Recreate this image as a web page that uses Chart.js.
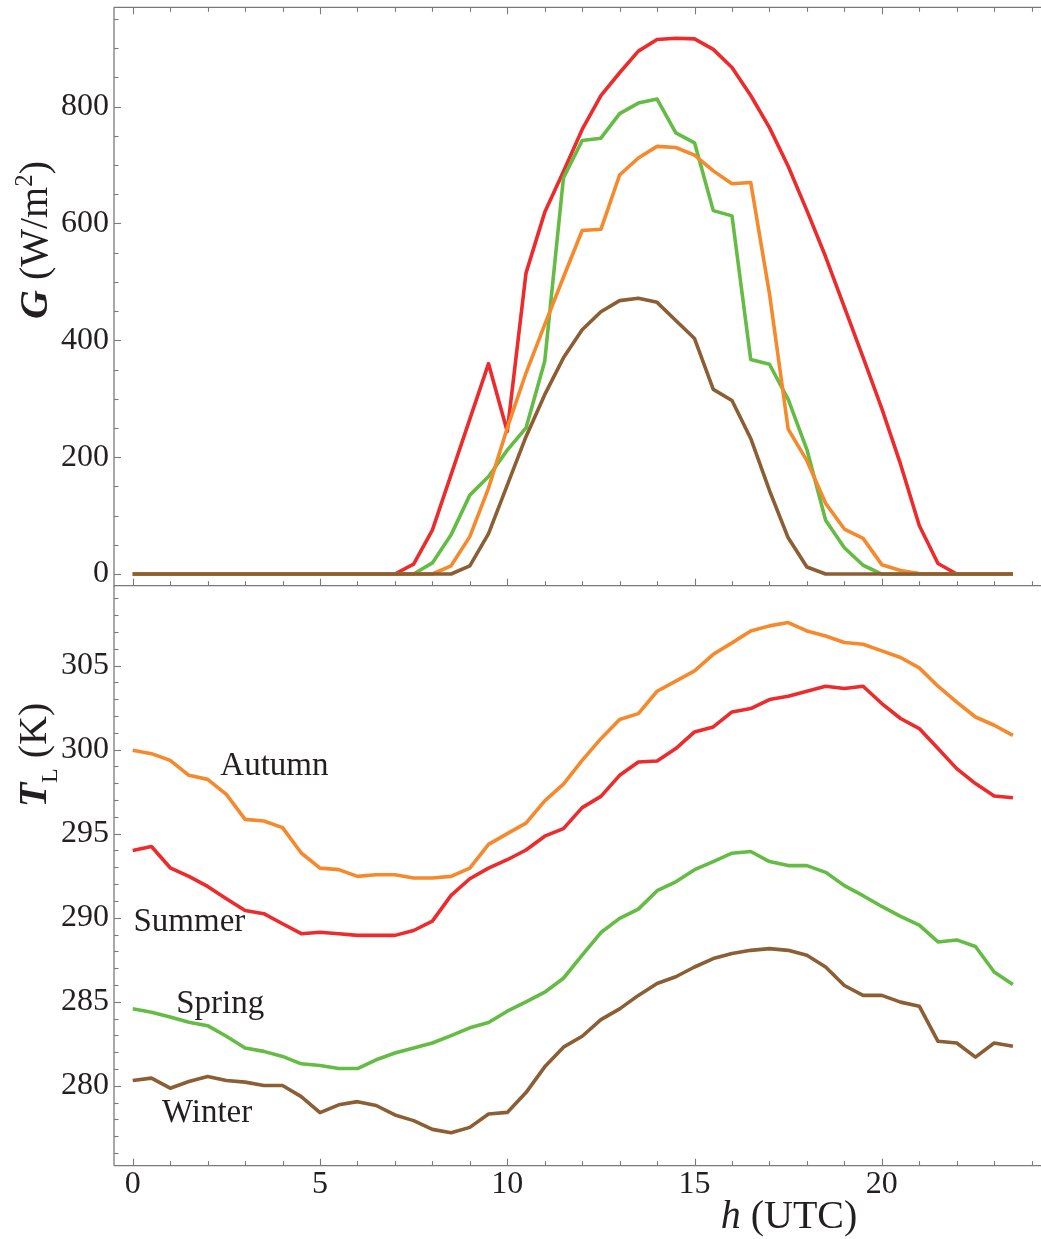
<!DOCTYPE html>
<html><head><meta charset="utf-8">
<script src="https://cdn.jsdelivr.net/npm/chart.js@4.4.0/dist/chart.umd.min.js"></script>
<style>
html,body{margin:0;padding:0;background:#fff;}
#wrap{position:relative;width:1041px;height:1239px;overflow:hidden;}
canvas{position:absolute;left:0;top:0;}
</style></head><body>
<div id="wrap">
<canvas id="cTop" width="1041" height="600"></canvas>
<canvas id="cBot" width="1041" height="1239"></canvas>
</div>
<script>
// ---------- data ----------
const hours = [0,0.5,1,1.5,2,2.5,3,3.5,4,4.5,5,5.5,6,6.5,7,7.5,8,8.5,9,9.5,10,10.5,11,11.5,
  12,12.5,13,13.5,14,14.5,15,15.5,16,16.5,17,17.5,18,18.5,19,19.5,20,20.5,21,21.5,22,22.5,23,23.5];

// Irradiance G (W/m^2)
const gSummer = [0,0,0,0,0,0,0,0,0,0,0,0,0,0,0,17,75,170,265,360,244,515,619,689,
  761,819,858,895,915,917,916,898,867,819,764,698,622,543,457,371,283,188,83,18,0,0,0,0];
const gSpring = [0,0,0,0,0,0,0,0,0,0,0,0,0,0,0,0,19,67,135,167,212,250,364,678,
  742,746,788,806,813,755,738,622,613,367,359,299,213,92,45,15,0,0,0,0,0,0,0,0];
const gAutumn = [0,0,0,0,0,0,0,0,0,0,0,0,0,0,0,0,0,14,64,147,250,344,427,508,
  588,590,683,712,732,730,717,690,668,670,480,248,194,121,77,61,16,6,1,0,0,0,0,0];
const gWinter = [0,0,0,0,0,0,0,0,0,0,0,0,0,0,0,0,0,0,14,69,152,235,307,370,
  418,449,468,472,465,434,403,316,297,232,143,62,12,0,0,0,0,0,0,0,0,0,0,0];

// Temperature T_L (K)
const tAutumn = [299.96,299.76,299.36,298.47,298.23,297.34,295.85,295.75,295.36,293.85,
  292.95,292.86,292.46,292.56,292.56,292.36,292.36,292.46,292.95,294.36,
  295.0,295.63,296.95,297.95,299.36,300.65,301.79,302.14,303.47,304.07,
  304.68,305.67,306.35,307.06,307.36,307.56,307.06,306.76,306.37,306.27,
  305.87,305.48,304.86,303.77,302.83,301.94,301.45,300.85];
const tSummer = [294.0,294.24,292.97,292.46,291.86,291.13,290.43,290.24,289.64,289.05,
  289.14,289.05,288.95,288.95,288.95,289.24,289.8,291.33,292.32,292.95,
  293.45,294.03,294.85,295.3,296.55,297.22,298.47,299.26,299.32,300.06,
  301.05,301.35,302.24,302.44,302.98,303.17,303.47,303.77,303.63,303.77,
  302.74,301.85,301.25,300.06,298.87,297.98,297.24,297.14];
const tSpring = [284.58,284.38,284.10,283.78,283.58,282.95,282.25,282.05,281.75,281.31,
  281.21,281.03,281.03,281.55,281.95,282.25,282.55,282.99,283.45,283.77,
  284.44,285.0,285.57,286.4,287.77,289.12,289.96,290.51,291.61,292.14,
  292.86,293.34,293.84,293.94,293.34,293.10,293.10,292.70,291.91,291.31,
  290.67,290.08,289.56,288.56,288.68,288.29,286.77,286.03];
const tWinter = [280.32,280.46,279.86,280.26,280.56,280.32,280.22,280.02,280.02,279.36,
  278.41,278.87,279.06,278.83,278.27,277.93,277.41,277.21,277.53,278.33,
  278.42,279.60,281.13,282.3,282.95,283.94,284.58,285.38,286.09,286.49,
  287.07,287.57,287.87,288.06,288.16,288.06,287.77,287.07,285.97,285.38,
  285.38,284.98,284.74,282.65,282.55,281.71,282.55,282.35];

// tick labels
const xTickLabels = [0,5,10,15,20];
const gTickLabels = [0,200,400,600,800];
const tTickLabels = [280,285,290,295,300,305];

// series names (drawn as in-plot labels in the lower panel)
const seasonNames = ['Autumn','Summer','Spring','Winter'];
const seasonLabelAt = [[2.34,298.5],[0.02,289.24],[1.16,284.34],[0.78,277.83]];

// ---------- styling ----------
const COL = {summer:'#ED2B2C', spring:'#64BC45', autumn:'#F6892B', winter:'#8B5E34'};
const AXIS = '#7a7a7a', TXT = '#231f20';
const SERIF = '"Liberation Serif","Times New Roman",serif';

function pts(ys){ return hours.map((h,i)=>({x:h, y:ys[i]})); }
function ds(ys,c){ return {data:pts(ys), borderColor:c, borderWidth:3.6, pointRadius:0,
  tension:0, fill:false, borderJoinStyle:'round', borderCapStyle:'butt'}; }

function fontStr(s, base){
  return (s.i?'italic ':'') + (s.b?'bold ':'') + (base*(s.s||1)).toFixed(1) + 'px ' + SERIF;
}
function drawRich(ctx, segs, base, cx, cy, rot){
  ctx.save(); ctx.translate(cx, cy); ctx.rotate(rot);
  let w = 0;
  segs.forEach(s=>{ ctx.font = fontStr(s, base); w += ctx.measureText(s.t).width; });
  let x = -w/2;
  ctx.fillStyle = TXT; ctx.textAlign='left'; ctx.textBaseline='alphabetic';
  segs.forEach(s=>{ ctx.font = fontStr(s, base); ctx.fillText(s.t, x, (s.dy||0)*base); x += ctx.measureText(s.t).width; });
  ctx.restore();
}

function frameLine(ctx,x1,y1,x2,y2){ ctx.beginPath(); ctx.moveTo(x1,y1); ctx.lineTo(x2,y2); ctx.stroke(); }

function xTickMarks(chart, y, dir){
  const ctx = chart.ctx, xs = chart.scales.x;
  for (let v=0; v<=24; v++){
    const px = Math.round(xs.getPixelForValue(v))+0.5;
    const len = (v%5===0)?7:4.5;
    frameLine(ctx, px, y, px, y+dir*len);
  }
}
function yTickMarks(chart, major, minorFrom, minorTo, minorStep){
  const ctx = chart.ctx, ys = chart.scales.y, L = chart.chartArea.left;
  for (let v=minorFrom; v<=minorTo+1e-9; v+=minorStep){
    const py = Math.round(ys.getPixelForValue(v))+0.5;
    const len = major.includes(Math.round(v*100)/100)?7:4.5;
    frameLine(ctx, L, py, L+len, py);
  }
}

const topFrame = {
  id:'topFrame',
  afterDraw(chart){
    const ctx = chart.ctx, a = chart.chartArea;
    ctx.save(); ctx.strokeStyle = AXIS; ctx.lineWidth = 1.3;
    frameLine(ctx, a.left, a.top, a.left, a.bottom+1);
    frameLine(ctx, a.left, a.top, a.right, a.top);
    frameLine(ctx, a.left, a.bottom, a.right, a.bottom);
    ctx.lineWidth = 1.1;
    xTickMarks(chart, a.top, 1);
    xTickMarks(chart, a.bottom, -1);
    yTickMarks(chart, gTickLabels, 0, 950, 50);
    ctx.restore();
    drawRich(ctx, [{t:'G',i:1,b:1},{t:' (W/m'},{t:'2',s:0.62,dy:-0.38},{t:')'}], 40, 47, 240, -Math.PI/2);
  }
};
const botFrame = {
  id:'botFrame',
  afterDraw(chart){
    const ctx = chart.ctx, a = chart.chartArea;
    ctx.save(); ctx.strokeStyle = AXIS; ctx.lineWidth = 1.3;
    frameLine(ctx, a.left, a.top, a.left, a.bottom);
    frameLine(ctx, a.left, a.bottom, a.right, a.bottom);
    ctx.lineWidth = 1.1;
    xTickMarks(chart, a.bottom, -1);
    yTickMarks(chart, tTickLabels, 276, 309, 1);
    ctx.restore();
    // season labels
    const xs = chart.scales.x, ys = chart.scales.y;
    ctx.save(); ctx.fillStyle = TXT; ctx.font = '33px ' + SERIF; ctx.textAlign='left'; ctx.textBaseline='alphabetic';
    seasonNames.forEach((n,i)=>{
      ctx.fillText(n, xs.getPixelForValue(seasonLabelAt[i][0]), ys.getPixelForValue(seasonLabelAt[i][1]));
    });
    ctx.restore();
    drawRich(ctx, [{t:'T',i:1,b:1},{t:'L',s:0.6,dy:0.28},{t:' (K)'}], 40, 46, 755, -Math.PI/2);
    drawRich(ctx, [{t:'h',i:1},{t:' (UTC)'}], 40, 789, 1228, 0);
  }
};

const tickFont = {family: SERIF, size: 32};
function fixW(w){ return s=>{ s.width = w; s.paddingTop = 0; s.paddingBottom = 0; }; }

new Chart(document.getElementById('cTop'), {
  type:'line',
  data:{datasets:[ds(gWinter,COL.winter), ds(gAutumn,COL.autumn), ds(gSpring,COL.spring), ds(gSummer,COL.summer)]},
  options:{
    responsive:false, animation:false, events:[],
    layout:{padding:{left:0,right:0,top:7.3,bottom:14.3}},
    plugins:{legend:{display:false}, tooltip:{enabled:false}},
    scales:{
      x:{type:'linear', min:-0.5, max:24.25, display:false},
      y:{type:'linear', min:-20, max:970, position:'left',
         grid:{display:false, drawTicks:false}, border:{display:false},
         afterFit: fixW(114),
         afterBuildTicks: s=>{ s.ticks = gTickLabels.map(v=>({value:v})); },
         ticks:{font:tickFont, color:TXT, padding:5}}
    }
  },
  plugins:[topFrame]
});

new Chart(document.getElementById('cBot'), {
  type:'line',
  data:{datasets:[ds(tWinter,COL.winter), ds(tSpring,COL.spring), ds(tAutumn,COL.autumn), ds(tSummer,COL.summer)]},
  options:{
    responsive:false, animation:false, events:[],
    layout:{padding:{left:0,right:0,top:585.7,bottom:0}},
    plugins:{legend:{display:false}, tooltip:{enabled:false}},
    scales:{
      x:{type:'linear', min:-0.5, max:24.25, position:'bottom',
         grid:{display:false, drawTicks:false}, border:{display:false},
         afterFit: s=>{ s.height = 73.3; s.paddingLeft = 0; s.paddingRight = 0; },
         afterBuildTicks: s=>{ s.ticks = xTickLabels.map(v=>({value:v})); },
         ticks:{font:tickFont, color:TXT, padding:0, maxRotation:0, autoSkip:false}},
      y:{type:'linear', min:275.25, max:309.75, position:'left',
         grid:{display:false, drawTicks:false}, border:{display:false},
         afterFit: fixW(114),
         afterBuildTicks: s=>{ s.ticks = tTickLabels.map(v=>({value:v})); },
         ticks:{font:tickFont, color:TXT, padding:5}}
    }
  },
  plugins:[botFrame]
});
</script>
</body></html>
